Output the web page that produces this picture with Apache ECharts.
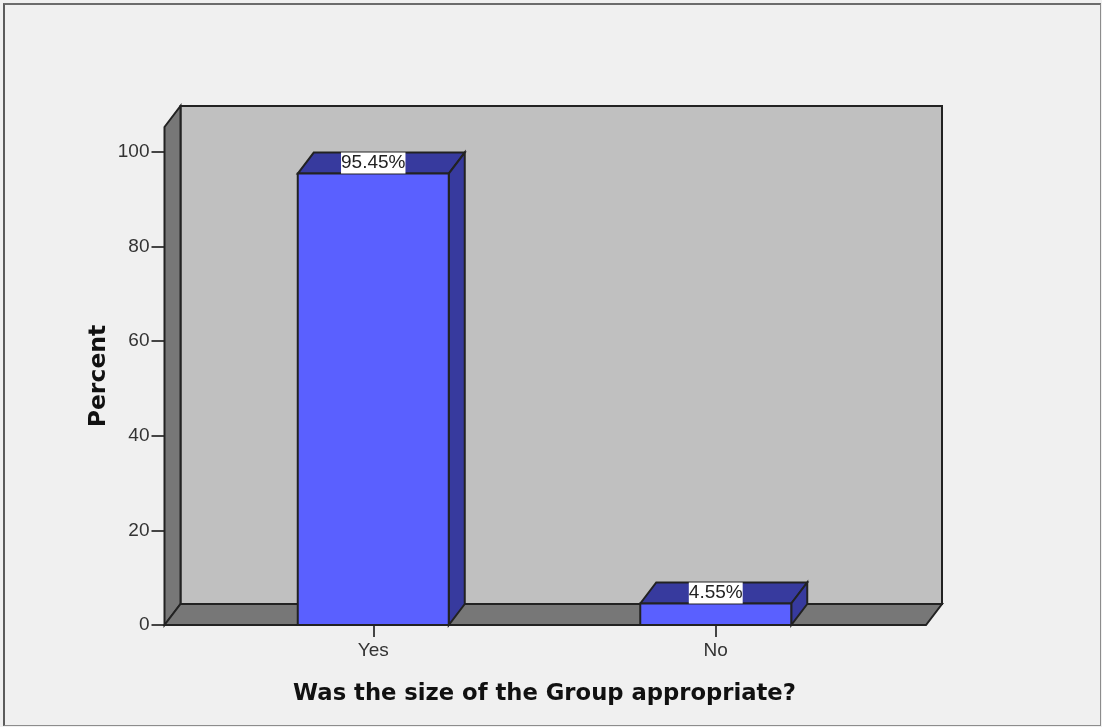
<!DOCTYPE html>
<html>
<head>
<meta charset="utf-8">
<title>Was the size of the Group appropriate?</title>
<script src="https://cdn.jsdelivr.net/npm/echarts@6/dist/echarts.min.js"></script>
<style>
  html, body { margin: 0; padding: 0; background: #f4f4f4; overflow: hidden; }
  #main { width: 1102px; height: 727px; }
  #frame {
    position: absolute; left: 3px; top: 3px; width: 1095px; height: 720px;
    border: 1px solid #8c8c8c; border-left: 2px solid #5c5c5c; border-top: 2px solid #6c6c6c;
    box-sizing: content-box; pointer-events: none;
  }
</style>
</head>
<body>
<div id="main"></div>
<div id="frame"></div>
<script>
const categories = ['Yes', 'No']
const percents = [95.45, 4.55]
const percentLabels = ['95.45%', '4.55%']
const yTicks = [0, 20, 40, 60, 80, 100]
const axisMax = 105.3

// fake 3d box, offset of the back face
const depthX = 16
const depthY = -21
// the walls stick out past the category bands on both sides
const wallPadLeft = 37.5
const wallPadRight = 39
const barWidth = 151

const edge = { stroke: '#222222', lineWidth: 2, lineJoin: 'miter' }

function poly(points, fill) {
  return { type: 'polygon', shape: { points: points }, style: { fill: fill, ...edge } }
}

function renderWalls(params, api) {
  let cs = params.coordSys
  let x0 = cs.x - wallPadLeft
  let x1 = cs.x + cs.width + wallPadRight
  let y0 = api.coord([0, 0])[1]
  let yTop = api.coord([0, axisMax])[1]
  return {
    type: 'group',
    children: [
      poly([[x0 + depthX, yTop + depthY], [x1 + depthX, yTop + depthY], [x1 + depthX, y0 + depthY], [x0 + depthX, y0 + depthY]], '#c0c0c0'),
      poly([[x0, yTop], [x0 + depthX, yTop + depthY], [x0 + depthX, y0 + depthY], [x0, y0]], '#777777'),
      poly([[x0, y0], [x0 + depthX, y0 + depthY], [x1 + depthX, y0 + depthY], [x1, y0]], '#777777'),
    ],
  }
}

function renderBar(params, api) {
  let top = api.coord([api.value(0), api.value(1)])
  let base = api.coord([api.value(0), 0])
  let l = top[0] - barWidth / 2
  let r = top[0] + barWidth / 2
  return {
    type: 'group',
    children: [
      poly([[l, top[1]], [l + depthX, top[1] + depthY], [r + depthX, top[1] + depthY], [r, top[1]]], '#373a9e'),
      poly([[r, top[1]], [r + depthX, top[1] + depthY], [r + depthX, base[1] + depthY], [r, base[1]]], '#373a9e'),
      poly([[l, top[1]], [r, top[1]], [r, base[1]], [l, base[1]]], '#5a60ff'),
      {
        type: 'text',
        x: top[0],
        y: top[1] - 10.5,
        style: {
          text: percentLabels[params.dataIndex],
          x: 0,
          y: 0,
          align: 'center',
          verticalAlign: 'middle',
          fill: '#222',
          font: '19px "Liberation Sans", Arial, sans-serif',
          backgroundColor: '#fff',
          padding: [1, 0, 1, 0],
        },
      },
    ],
  }
}

let myChart = echarts.init(document.getElementById('main'), null, { renderer: 'canvas' })

let option = {
  animation: false,
  backgroundColor: '#f0f0f0',
  textStyle: { fontFamily: '"Liberation Sans", Arial, sans-serif' },
  grid: { left: 202, top: 127, width: 685, height: 498, containLabel: false },
  xAxis: {
    type: 'category',
    data: categories,
    name: 'Was the size of the Group appropriate?',
    nameLocation: 'middle',
    nameGap: 58,
    nameMoveOverlap: false,
    nameTextStyle: {
      fontFamily: '"DejaVu Sans", sans-serif',
      fontWeight: 'bold',
      fontSize: 22.7,
      color: '#111',
    },
    axisLine: { show: false },
    axisTick: { show: true, alignWithLabel: true, length: 12, lineStyle: { color: '#444', width: 2 } },
    axisLabel: { fontSize: 19, color: '#333', margin: 16 },
  },
  yAxis: {
    type: 'value',
    min: 0,
    max: axisMax,
    offset: 37.5,
    name: 'Percent',
    nameLocation: 'middle',
    nameGap: 54,
    nameMoveOverlap: false,
    nameTextStyle: {
      fontFamily: '"DejaVu Sans", sans-serif',
      fontWeight: 'bold',
      fontSize: 23.5,
      color: '#111',
    },
    splitLine: { show: false },
    axisLine: { show: false },
    axisTick: { show: true, length: 13, customValues: yTicks, lineStyle: { color: '#444', width: 2 } },
    axisLabel: { fontSize: 19, color: '#333', margin: 15, customValues: yTicks },
  },
  series: [
    {
      type: 'custom',
      renderItem: renderWalls,
      data: [[0, 0]],
      silent: true,
      z: 1,
    },
    {
      type: 'custom',
      renderItem: renderBar,
      data: categories.map((c, i) => [i, percents[i]]),
      encode: { x: 0, y: 1 },
      z: 2,
    },
  ],
}

myChart.setOption(option)
</script>
</body>
</html>
